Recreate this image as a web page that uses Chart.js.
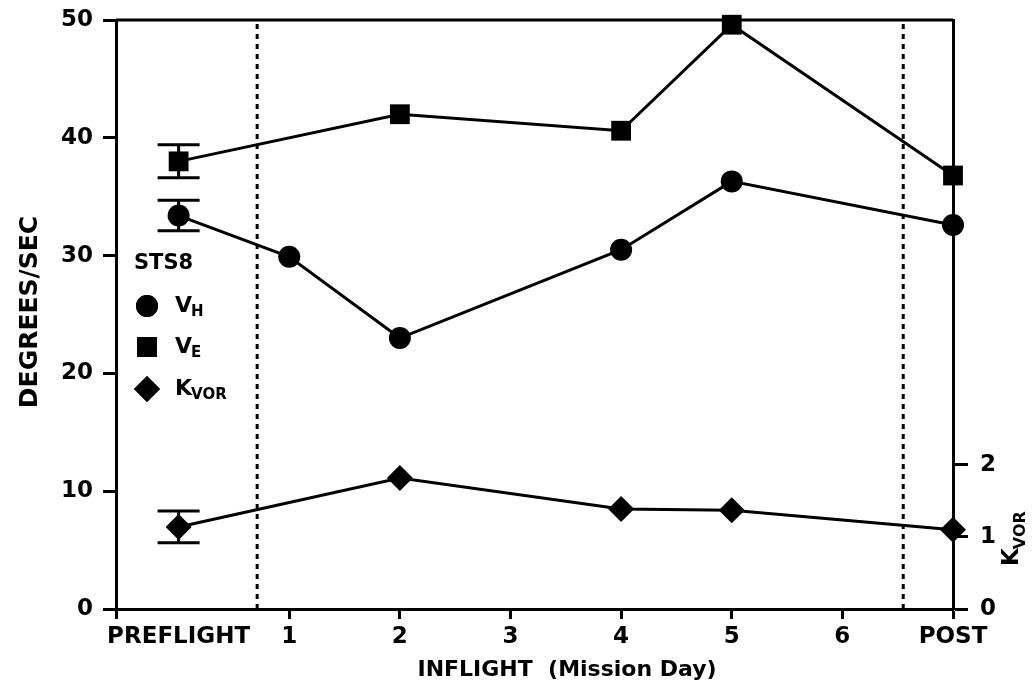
<!DOCTYPE html>
<html>
<head>
<meta charset="utf-8">
<script src="https://cdn.jsdelivr.net/npm/chart.js@4.4.0/dist/chart.umd.min.js"></script>
<style>
  html, body { margin: 0; padding: 0; background: #fff; }
  canvas { display: block; }
</style>
</head>
<body>
<canvas id="vorChart" width="1033" height="686"></canvas>
<script>
// x positions: 0 = PREFLIGHT, 1..6 = mission day, 7 = POST
const xTicks = [0, 1, 2, 3, 4, 5, 6, 7];
const xTickLabels = ['PREFLIGHT', '1', '2', '3', '4', '5', '6', 'POST'];
const yTicks = [0, 10, 20, 30, 40, 50];
const kTicks = [0, 1, 2];

const vhDays = [0, 1, 2, 4, 5, 7];
const vhValues = [33.4, 29.9, 23.0, 30.5, 36.3, 32.6];
const vhSd = [1.3];          // preflight only

const veDays = [0, 2, 4, 5, 7];
const veValues = [38.0, 42.0, 40.6, 49.6, 36.8];
const veSd = [1.4];

const kDays = [0, 2, 4, 5, 7];
const kValues = [1.14, 1.82, 1.39, 1.37, 1.10];
const kSd = [0.22];

// dotted lines marking launch and landing
const flightBounds = [0.71, 6.55];

const FONT = 'DejaVu Sans';
const tickFont = { family: FONT, size: 23, weight: 'bold' };

function pts(days, vals) { return days.map((d, i) => ({ x: d, y: vals[i] })); }

function drawSub(ctx, main, sub, x, y, size) {
    ctx.font = `bold ${size}px "${FONT}"`;
    ctx.fillText(main, x, y);
    const w = ctx.measureText(main).width;
    ctx.font = `bold ${Math.round(size * 0.68)}px "${FONT}"`;
    ctx.fillText(sub, x + w - 1, y + size * 0.3);
}

// fixed axis boxes so the plot frame sits where the original one does
const fixBox = size => s => {
    if (s.isHorizontal()) s.height = size; else s.width = size;
    s.paddingTop = 0; s.paddingBottom = 0; s.paddingLeft = 0; s.paddingRight = 0;
};

const errorBars = {
    id: 'errorBars',
    beforeDatasetsDraw(chart) {
        const ctx = chart.ctx;
        ctx.save();
        ctx.strokeStyle = '#000';
        ctx.lineWidth = 3;
        chart.data.datasets.forEach(ds => {
            if (!ds.sd) return;
            const ys = chart.scales[ds.yAxisID];
            const xs = chart.scales.x;
            ds.sd.forEach((e, i) => {
                const p = ds.data[i];
                const px = xs.getPixelForValue(p.x);
                const top = ys.getPixelForValue(p.y + e);
                const bot = ys.getPixelForValue(p.y - e);
                ctx.beginPath();
                ctx.moveTo(px, top); ctx.lineTo(px, bot);
                ctx.moveTo(px - 21, top); ctx.lineTo(px + 21, top);
                ctx.moveTo(px - 21, bot); ctx.lineTo(px + 21, bot);
                ctx.stroke();
            });
        });
        ctx.restore();
    }
};

const decorations = {
    id: 'decorations',
    afterDraw(chart) {
        const ctx = chart.ctx;
        const a = chart.chartArea;
        ctx.save();
        ctx.fillStyle = '#000';
        ctx.strokeStyle = '#000';
        // top frame line
        ctx.lineWidth = 3;
        ctx.beginPath();
        ctx.moveTo(a.left, a.top); ctx.lineTo(a.right, a.top);
        ctx.stroke();

        // x title
        ctx.textAlign = 'center';
        ctx.textBaseline = 'alphabetic';
        ctx.font = `bold 22px "${FONT}"`;
        ctx.fillText('INFLIGHT  (Mission Day)', 567, 676);

        // left title
        ctx.save();
        ctx.translate(37, 312);
        ctx.rotate(-Math.PI / 2);
        ctx.font = `bold 25px "${FONT}"`;
        ctx.fillText('DEGREES/SEC', 0, 0);
        ctx.restore();

        // right title K_VOR
        ctx.save();
        ctx.translate(1018, 566);
        ctx.rotate(-Math.PI / 2);
        ctx.textAlign = 'left';
        drawSub(ctx, 'K', 'VOR', 0, 0, 23);
        ctx.restore();

        // legend
        ctx.textAlign = 'left';
        ctx.textBaseline = 'middle';
        ctx.font = `bold 21px "${FONT}"`;
        ctx.fillText('STS8', 134, 264);
        const rows = [
            { style: 'circle', r: 11, main: 'V', sub: 'H', y: 306 },
            { style: 'rect', r: 14, main: 'V', sub: 'E', y: 347 },
            { style: 'rectRot', r: 13, main: 'K', sub: 'VOR', y: 389 }
        ];
        rows.forEach(row => {
            Chart.helpers.drawPoint(ctx, { pointStyle: row.style, radius: row.r, borderWidth: 0 }, 147, row.y);
            ctx.fill();
            drawSub(ctx, row.main, row.sub, 175, row.y, 22);
        });
        ctx.restore();
    }
};

const markerSet = (style, r) => ({
    pointStyle: style,
    pointRadius: r,
    pointHoverRadius: r,
    pointBackgroundColor: '#000',
    pointBorderColor: '#000',
    pointBorderWidth: 0,
    borderColor: '#000',
    borderWidth: 3,
    tension: 0,
    clip: false,
    fill: false
});

const dotted = x => ({
    data: [{ x: x, y: 0 }, { x: x, y: 50 }],
    yAxisID: 'y',
    borderColor: '#000',
    borderWidth: 3,
    borderDash: [5, 5],
    pointRadius: 0,
    fill: false
});

new Chart(document.getElementById('vorChart'), {
    type: 'line',
    data: {
        datasets: [
            ...flightBounds.map(dotted),
            { label: 'VH', data: pts(vhDays, vhValues), sd: vhSd, yAxisID: 'y', ...markerSet('circle', 11) },
            { label: 'VE', data: pts(veDays, veValues), sd: veSd, yAxisID: 'y', ...markerSet('rect', 14) },
            { label: 'KVOR', data: pts(kDays, kValues), sd: kSd, yAxisID: 'yK', ...markerSet('rectRot', 13) }
        ]
    },
    options: {
        responsive: false,
        animation: false,
        layout: { padding: { top: 20, left: 0, right: 0, bottom: 0 } },
        plugins: { legend: { display: false }, tooltip: { enabled: false } },
        scales: {
            x: {
                type: 'linear',
                min: -0.566,
                max: 7,
                afterBuildTicks: s => { s.ticks = [-0.566, ...xTicks].map(v => ({ value: v })); },
                afterFit: fixBox(77),
                ticks: {
                    autoSkip: false,
                    maxRotation: 0,
                    color: '#000',
                    font: tickFont,
                    padding: 4,
                    callback: v => { const i = xTicks.indexOf(v); return i < 0 ? '' : xTickLabels[i]; }
                },
                grid: {
                    drawOnChartArea: false,
                    tickLength: 10,
                    tickWidth: 3,
                    tickColor: c => (c.tick && c.tick.value === 0) ? 'rgba(0,0,0,0)' : '#000'
                },
                border: { display: true, color: '#000', width: 3 }
            },
            y: {
                position: 'left',
                min: 0,
                max: 50,
                afterBuildTicks: s => { s.ticks = yTicks.map(v => ({ value: v })); },
                afterFit: fixBox(116),
                ticks: { color: '#000', font: tickFont, padding: 10 },
                grid: { drawOnChartArea: false, tickLength: 13, tickWidth: 3, tickColor: '#000' },
                border: { display: true, color: '#000', width: 3 }
            },
            yK: {
                position: 'right',
                min: 0,
                max: 8.18,
                afterBuildTicks: s => { s.ticks = kTicks.map(v => ({ value: v })); },
                afterFit: fixBox(80),
                ticks: { color: '#000', font: tickFont, padding: 12 },
                grid: { drawOnChartArea: false, tickLength: 15, tickWidth: 3, tickColor: '#000' },
                border: { display: true, color: '#000', width: 3 }
            }
        }
    },
    plugins: [errorBars, decorations]
});
</script>
</body>
</html>
